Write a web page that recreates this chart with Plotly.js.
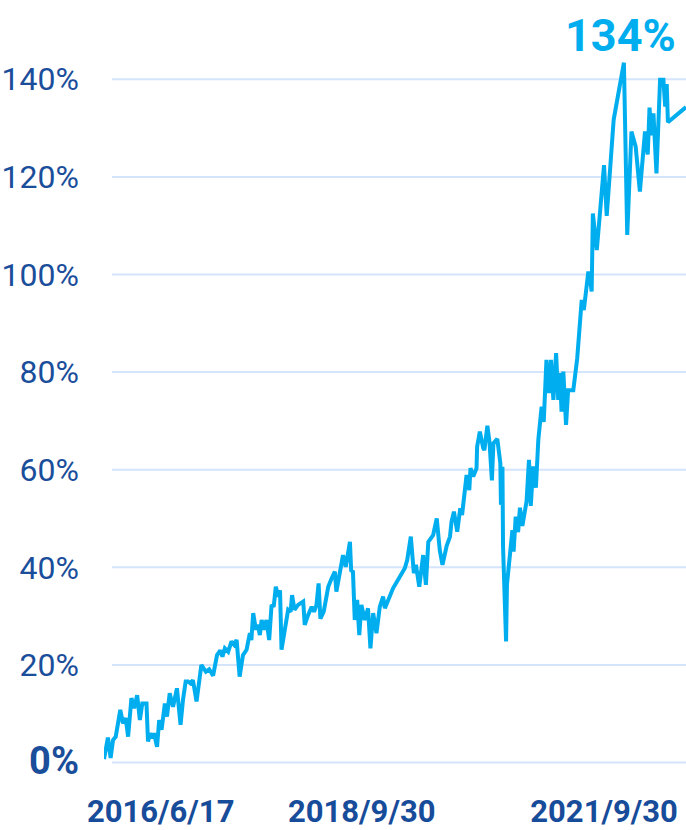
<!DOCTYPE html>
<html>
<head>
<meta charset="utf-8">
<script src="https://cdn.plot.ly/plotly-3.0.1.min.js"></script>
<style>
  html, body { margin: 0; padding: 0; background: #ffffff; }
  #chart { width: 686px; height: 830px; }
</style>
</head>
<body>
<div id="chart"></div>
<script>
// Cumulative return series (date, %)
const dates = [
  "2016-06-17","2016-06-30","2016-07-09","2016-07-17","2016-07-26","2016-08-10","2016-08-19","2016-08-28",
  "2016-09-05","2016-09-16","2016-09-25","2016-10-05","2016-10-14","2016-10-22","2016-11-05","2016-11-10",
  "2016-11-18","2016-11-25","2016-11-30","2016-12-10","2016-12-17","2016-12-25","2017-01-05","2017-01-12",
  "2017-01-21","2017-02-01","2017-02-14","2017-02-26","2017-03-06","2017-03-15","2017-03-23","2017-03-31",
  "2017-04-08","2017-04-20","2017-05-06","2017-05-21","2017-06-01","2017-06-14","2017-06-27","2017-07-08",
  "2017-07-15","2017-07-23","2017-08-03","2017-08-14","2017-08-23","2017-08-31","2017-09-10","2017-09-21",
  "2017-10-03","2017-10-14","2017-10-19","2017-10-25","2017-11-03","2017-11-10","2017-11-16","2017-11-22",
  "2017-11-29","2017-12-08","2017-12-17","2017-12-25","2018-01-01","2018-01-08","2018-01-16","2018-01-22",
  "2018-01-27","2018-02-07","2018-02-18","2018-02-26","2018-03-03","2018-03-11","2018-03-23","2018-04-09",
  "2018-04-14","2018-04-25","2018-05-07","2018-05-15","2018-05-23","2018-05-30","2018-06-05","2018-06-16",
  "2018-07-01","2018-07-12","2018-07-23","2018-07-28","2018-08-06","2018-08-14","2018-08-19","2018-08-28",
  "2018-09-05","2018-09-11","2018-09-15","2018-09-21","2018-09-27","2018-10-05","2018-10-12","2018-10-19",
  "2018-10-30","2018-11-10","2018-11-18","2018-11-27","2018-12-08","2018-12-19","2018-12-30","2019-01-05",
  "2019-02-01","2019-03-12","2019-03-20","2019-04-01","2019-04-11","2019-04-18","2019-04-29","2019-05-12",
  "2019-05-21","2019-05-29","2019-06-14","2019-06-26","2019-07-06","2019-07-15","2019-07-29","2019-08-09",
  "2019-08-14","2019-08-22","2019-09-02","2019-09-12","2019-09-18","2019-09-24","2019-10-03","2019-10-12",
  "2019-10-16","2019-10-25","2019-11-05","2019-11-07","2019-11-16","2019-11-27","2019-12-01","2019-12-11",
  "2019-12-18","2019-12-26","2019-12-31","2020-01-13","2020-01-23","2020-01-25","2020-01-30","2020-02-01",
  "2020-02-11","2020-02-14","2020-03-03","2020-03-07","2020-03-14","2020-03-22","2020-03-28","2020-04-05",
  "2020-04-19","2020-04-27","2020-05-03","2020-05-11","2020-05-20","2020-05-28","2020-06-08","2020-06-15",
  "2020-06-24","2020-07-02","2020-07-09","2020-07-17","2020-07-26","2020-08-02","2020-08-08","2020-08-13",
  "2020-08-19","2020-08-28","2020-09-04","2020-09-21","2020-09-27","2020-10-04","2020-10-19","2020-10-26",
  "2020-11-10","2020-11-15","2020-11-21","2020-11-25","2020-12-08","2021-01-01","2021-01-10","2021-02-02",
  "2021-03-08","2021-03-19","2021-04-02","2021-04-16","2021-04-30","2021-05-17","2021-05-26","2021-06-01",
  "2021-06-07","2021-06-14","2021-06-24","2021-07-06","2021-07-17","2021-07-23","2021-07-28","2021-08-01",
  "2021-09-30"
];
const returns = [
  0.7, 5.1, 0.9, 4.6, 5.3, 10.8, 8.0, 9.1,
  5.3, 13.2, 11.1, 13.8, 8.7, 12.1, 12.1, 4.3,
  6.0, 5.0, 6.0, 3.2, 8.7, 6.7, 12.1, 9.4,
  14.2, 11.4, 15.2, 7.7, 12.8, 16.6, 16.6, 16.2,
  16.9, 12.5, 20.0, 18.6, 19.1, 17.8, 22.0, 23.0,
  21.7, 23.4, 22.7, 24.8, 24.1, 25.1, 17.6, 22.0,
  23.1, 26.5, 25.1, 30.6, 27.2, 28.2, 26.1, 29.2,
  27.2, 29.2, 25.1, 32.3, 31.9, 36.0, 34.0, 35.3,
  23.1, 27.2, 31.3, 30.9, 34.3, 31.3, 32.3, 33.0,
  28.2, 30.2, 31.9, 30.9, 32.3, 36.7, 29.5, 30.9,
  36.0, 37.7, 39.1, 35.0, 38.1, 40.8, 42.5, 40.1,
  42.5, 45.2, 39.4, 39.1, 29.2, 33.3, 26.1, 32.3,
  29.2, 31.6, 23.4, 30.6, 26.5, 31.9, 34.0, 31.6,
  35.7, 39.8, 41.5, 46.3, 38.8, 40.5, 36.0, 42.5,
  36.4, 45.2, 46.6, 50.0, 43.5, 40.5, 44.4, 46.3,
  49.3, 51.4, 47.3, 52.1, 50.7, 54.8, 58.9, 55.8,
  60.3, 58.6, 60.3, 64.7, 67.8, 64.5, 64.0, 69.0,
  65.7, 57.8, 65.4, 66.3, 61.3, 52.8, 60.6, 44.2,
  24.8, 36.5, 47.6, 43.2, 50.4, 47.2, 52.2, 48.5,
  53.5, 62.0, 52.6, 60.7, 56.3, 66.1, 72.9, 69.8,
  82.5, 75.7, 82.5, 74.3, 83.9, 74.3, 79.8, 71.9,
  80.1, 69.2, 76.3, 76.3, 80.1, 82.8, 94.8, 92.7,
  100.6, 99.5, 96.5, 112.5, 105.0, 122.4, 112.0, 131.7,
  143.4, 108.1, 129.3, 126.2, 117.0, 129.3, 124.6, 134.2,
  128.5, 133.0, 120.7, 139.9, 139.9, 134.4, 139.0, 131.2,
  134.3
];

// Axis ticks
const yTickVals = [0, 20, 40, 60, 80, 100, 120, 140];
const yTickText = ['<b><span style="font-size:38px">0%</span></b>', "20%", "40%", "60%", "80%", "100%", "120%", "140%"];
const xTickVals = ["2016-12-22", "2018-10-20", "2021-01-01"];
const xTickText = ["2016/6/17", "2018/9/30", "2021/9/30"];

const lastValue = returns[returns.length - 1];

const gridShapes = yTickVals.map(v => ({
  type: "line", xref: "paper", yref: "y",
  x0: 0.0137, x1: 1, y0: v, y1: v,
  line: { color: "#d3e4fb", width: 2 },
  layer: "below"
}));

const trace = {
  x: dates,
  y: returns,
  type: "scatter",
  mode: "lines",
  line: { color: "#00aeef", width: 4 },
  hoverinfo: "skip"
};

const layout = {
  width: 686,
  height: 830,
  margin: { l: 104, r: 0, t: 30, b: 50 },
  paper_bgcolor: "#ffffff",
  plot_bgcolor: "#ffffff",
  showlegend: false,
  font: { family: "Roboto, sans-serif", color: "#1a4e9b" },
  xaxis: {
    type: "date",
    range: ["2016-06-17", "2021-09-30"],
    showgrid: false,
    zeroline: false,
    showline: false,
    ticks: "",
    tickmode: "array",
    tickvals: xTickVals,
    ticktext: xTickText.map(t => "<b>" + t + "</b>"),
    tickfont: { family: "Roboto, sans-serif", size: 31, color: "#174c9a" },
    ticklabelstandoff: 10
  },
  yaxis: {
    range: [-3.586, 150.1],
    showgrid: false,
    zeroline: false,
    showline: false,
    ticks: "",
    tickmode: "array",
    tickvals: yTickVals,
    ticktext: yTickText,
    tickfont: { family: "Roboto, sans-serif", size: 32, color: "#1a4e9b" },
    ticklabelstandoff: 24
  },
  shapes: gridShapes,
  annotations: [{
    xref: "paper", yref: "paper",
    x: 0.8866, y: 0.9933,
    xanchor: "center", yanchor: "middle",
    text: "<b>" + Math.round(lastValue) + "%</b>",
    showarrow: false,
    font: { family: "Roboto, sans-serif", size: 45, color: "#00aeef" }
  }]
};

Plotly.newPlot("chart", [trace], layout, { staticPlot: true, displayModeBar: false });
</script>
</body>
</html>
